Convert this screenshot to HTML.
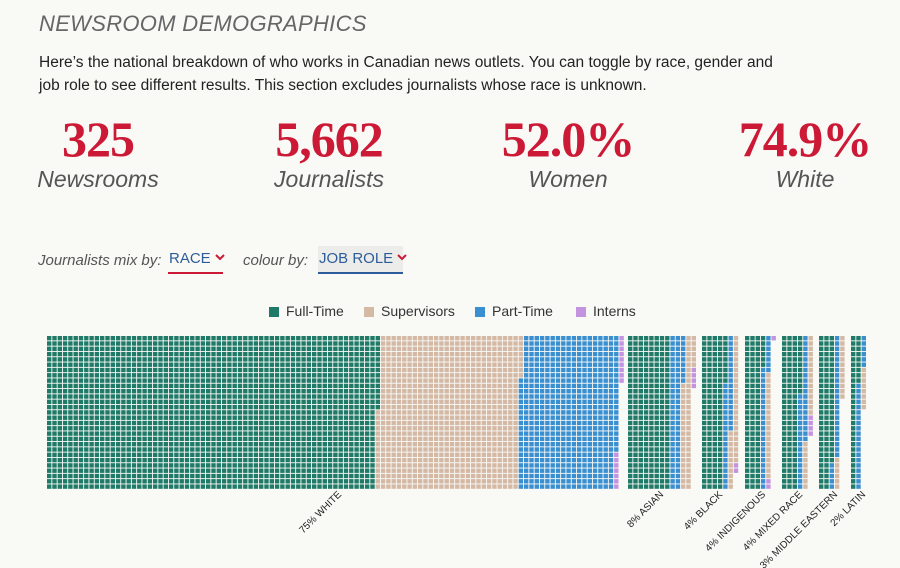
<!DOCTYPE html>
<html><head><meta charset="utf-8"><style>
body{margin:0;width:900px;height:568px;background:#f9f9f6;font-family:"Liberation Sans",sans-serif;overflow:hidden;position:relative}
.t{position:absolute;left:39px;top:11px;font-size:22px;font-style:italic;color:#666;letter-spacing:0.3px}
.p{position:absolute;left:39px;top:51px;width:745px;font-size:15.5px;line-height:23px;color:#222}
.st{position:absolute;top:112px;width:200px;text-align:center}
.n{font-family:"Liberation Serif",serif;font-weight:bold;color:#cc1a36;font-size:50px;line-height:54px;letter-spacing:-1px}
.l{font-style:italic;color:#555;font-size:23px;line-height:26px}
.ctl{position:absolute;top:252px;font-size:15px;font-style:italic;color:#555;white-space:nowrap}
.dd{position:absolute;top:246px;font-size:15px;color:#2c5d9a;padding:4px 2px 5px 1px;white-space:nowrap}
.leg{position:absolute;top:303px;font-size:14px;color:#333}
.sw{display:inline-block;width:10px;height:10px;margin-right:7px;vertical-align:-1px}
</style></head><body>
<div class="t">NEWSROOM DEMOGRAPHICS</div>
<div class="p">Here’s the national breakdown of who works in Canadian news outlets. You can toggle by race, gender and job role to see different results. This section excludes journalists whose race is unknown.</div>
<div class="st" style="left:-2px"><div class="n">325</div><div class="l">Newsrooms</div></div>
<div class="st" style="left:229px"><div class="n">5,662</div><div class="l">Journalists</div></div>
<div class="st" style="left:468px"><div class="n">52.0%</div><div class="l">Women</div></div>
<div class="st" style="left:705px"><div class="n">74.9%</div><div class="l">White</div></div>
<div class="ctl" style="left:38px">Journalists mix by:</div>
<div class="dd" style="left:168px;border-bottom:2px solid #cc1a36;width:52px">RACE <svg width="10" height="7" style="vertical-align:2px"><path d="M1 1L5 5L9 1" stroke="#cc1a36" stroke-width="2" fill="none"/></svg></div>
<div class="ctl" style="left:243px">colour by:</div>
<div class="dd" style="left:318px;border-bottom:2px solid #2c5d9a;background:#ececea;width:82px">JOB ROLE <svg width="10" height="7" style="vertical-align:2px"><path d="M1 1L5 5L9 1" stroke="#cc1a36" stroke-width="2" fill="none"/></svg></div>
<div class="leg" style="left:269px"><span class="sw" style="background:#1f7a68"></span>Full-Time</div>
<div class="leg" style="left:364px"><span class="sw" style="background:#d4b9a5"></span>Supervisors</div>
<div class="leg" style="left:475px"><span class="sw" style="background:#3a8fd0"></span>Part-Time</div>
<div class="leg" style="left:576px"><span class="sw" style="background:#c493e0"></span>Interns</div>
<svg id="g" width="900" height="568" style="position:absolute;left:0;top:0">
<g font-family="Liberation Sans,sans-serif" font-size="10" fill="#222" text-anchor="end">
<text transform="translate(342,495) rotate(-45)">75% WHITE</text>
<text transform="translate(664,495) rotate(-45)">8% ASIAN</text>
<text transform="translate(723,495) rotate(-45)">4% BLACK</text>
<text transform="translate(766,495) rotate(-45)">4% INDIGENOUS</text>
<text transform="translate(803,495) rotate(-45)">4% MIXED RACE</text>
<text transform="translate(838,495) rotate(-45)">3% MIDDLE EASTERN</text>
<text transform="translate(866,495) rotate(-45)">2% LATIN</text>
</g>
</svg>
<script>
var C={g:"#1f7a68",t:"#d4b9a5",b:"#3a8fd0",p:"#c493e0"};
var groups=[[47,[["g",1812],["t",777],["b",536],["p",16]]],
[628,[["g",232],["b",67],["t",55],["p",4]]],
[702,[["g",125],["b",38],["t",35],["p",2]]],
[745,[["g",93],["b",30],["t",20],["p",3]]],
[782,[["g",98],["b",38],["t",24],["p",4]]],
[819,[["g",82],["b",28],["t",18]]],
[851,[["g",38],["b",26],["t",8]]]];
var P=5.3,R=29,Y=336,s="";
groups.forEach(function(gr){var i=0;gr[1].forEach(function(seg){for(var k=0;k<seg[1];k++){var c=Math.floor(i/R),r=i%R;
s+='<rect x="'+(gr[0]+c*P).toFixed(1)+'" y="'+(Y+r*P).toFixed(1)+'" width="4.4" height="4.4" fill="'+C[seg[0]]+'"/>';i++;}});});
document.getElementById("g").insertAdjacentHTML("beforeend",s);
</script>
</body></html>
